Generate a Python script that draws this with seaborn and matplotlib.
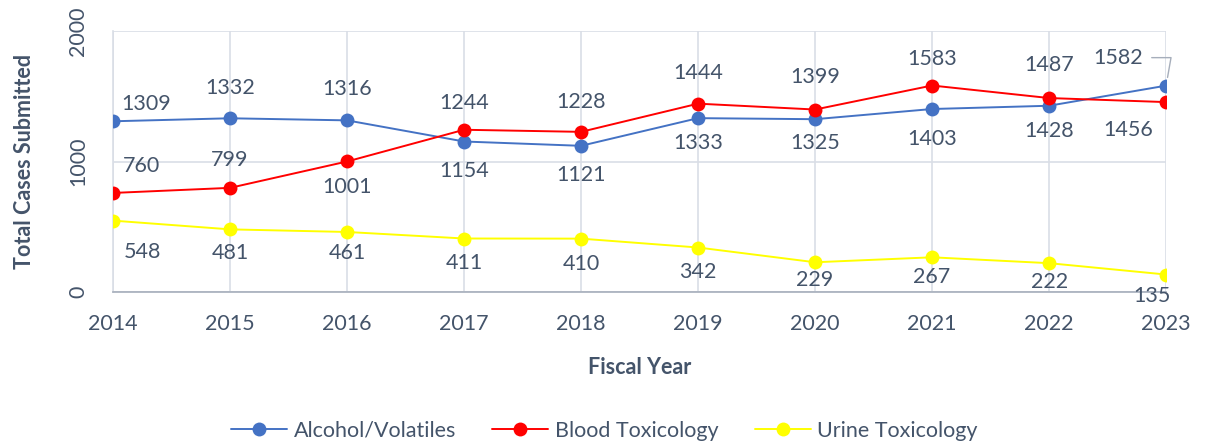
import matplotlib

matplotlib.use("Agg")
import pandas as pd
import seaborn as sns
from matplotlib import pyplot as plt

years = [2014, 2015, 2016, 2017, 2018, 2019, 2020, 2021, 2022, 2023]
alcohol = [1309, 1332, 1316, 1154, 1121, 1333, 1325, 1403, 1428, 1582]
blood = [760, 799, 1001, 1244, 1228, 1444, 1399, 1583, 1487, 1456]
urine = [548, 481, 461, 411, 410, 342, 229, 267, 222, 135]
series_names = ["Alcohol/Volatiles", "Blood Toxicology", "Urine Toxicology"]

colors = ["#4472C4", "#FF0000", "#FFFF00"]
text_color = "#44546A"
grid_color = "#D9DEE6"

# label offsets in pixels (dx, dy up)
label_offsets = {
    "Alcohol/Volatiles": [(33, 17), (0, 30), (0, 31), (0, -29), (0, -29),
                          (0, -25), (0, -24), (0, -30), (0, -25), (-48, 28)],
    "Blood Toxicology": [(28, 27), (0, 28), (0, -26), (0, 27), (0, 30),
                         (0, 31), (0, 33), (0, 27), (0, 33), (-38, -28)],
    "Urine Toxicology": [(29, -31), (0, -24), (0, -21), (0, -24), (0, -25),
                         (0, -24), (0, -18), (0, -20), (0, -19), (-14, -21)],
}

frames = []
for name, values in zip(series_names, [alcohol, blood, urine]):
    frames.append(pd.DataFrame({"year": years, "cases": values, "series": name}))
data = pd.concat(frames, ignore_index=True)

sns.set_theme(style="white")
plt.rcParams["font.family"] = ["Lato", "DejaVu Sans"]

fig = plt.figure(figsize=(12.09, 4.44), dpi=100)
ax = fig.add_axes([0.0935, 0.342, 0.871, 0.588])

ax.grid(True, axis="both", color=grid_color, linewidth=1.2, zorder=0)
ax.set_axisbelow(True)

sns.lineplot(
    data=data,
    x="year",
    y="cases",
    hue="series",
    hue_order=series_names,
    palette=colors,
    marker="o",
    markersize=10,
    markeredgewidth=0,
    linewidth=1.4,
    ax=ax,
    zorder=3,
)

for name, values in zip(series_names, [alcohol, blood, urine]):
    for i, (yr, val) in enumerate(zip(years, values)):
        dx, dy = label_offsets[name][i]
        kwargs = {}
        if name == "Alcohol/Volatiles" and yr == 2023:
            kwargs["arrowprops"] = dict(
                arrowstyle="-",
                color="#A6AEBB",
                linewidth=1.0,
                relpos=(1.0, 0.5),
                connectionstyle="angle,angleA=0,angleB=80,rad=0",
                shrinkA=4,
                shrinkB=6,
            )
        ax.annotate(
            str(val),
            xy=(yr, val),
            xytext=(dx, dy),
            textcoords="offset pixels",
            ha="center",
            va="center",
            fontsize=15.5,
            color=text_color,
            zorder=5,
            **kwargs,
        )

ax.set_xlim(2014, 2023)
ax.set_ylim(0, 2000)
ax.set_xticks(years)
ax.set_yticks([0, 1000, 2000])
ax.tick_params(axis="x", labelsize=15.5, colors=text_color, length=0, pad=16)
ax.tick_params(axis="y", labelsize=15.5, colors=text_color, length=0, pad=18)
for lbl in ax.get_yticklabels():
    lbl.set_rotation(90)
    lbl.set_va("center")

for side in ["top", "right"]:
    ax.spines[side].set_visible(False)
ax.spines["left"].set_color(grid_color)
ax.spines["left"].set_linewidth(1.2)
ax.spines["bottom"].set_color("#A6AEBB")
ax.spines["bottom"].set_linewidth(1.2)

ax.set_xlabel("Fiscal Year", fontsize=15.5, fontweight="bold", color=text_color, labelpad=16)
ax.set_ylabel("Total Cases Submitted", fontsize=15.5, fontweight="bold", color=text_color, labelpad=24)

sns.move_legend(
    ax,
    "center",
    bbox_to_anchor=(0.5, 0.03),
    bbox_transform=fig.transFigure,
    ncol=3,
    frameon=False,
    title=None,
    fontsize=15.5,
    handlelength=2.6,
    handletextpad=0.3,
    columnspacing=1.7,
)
for t in ax.get_legend().get_texts():
    t.set_color(text_color)

fig.savefig("out.png", dpi=100)
